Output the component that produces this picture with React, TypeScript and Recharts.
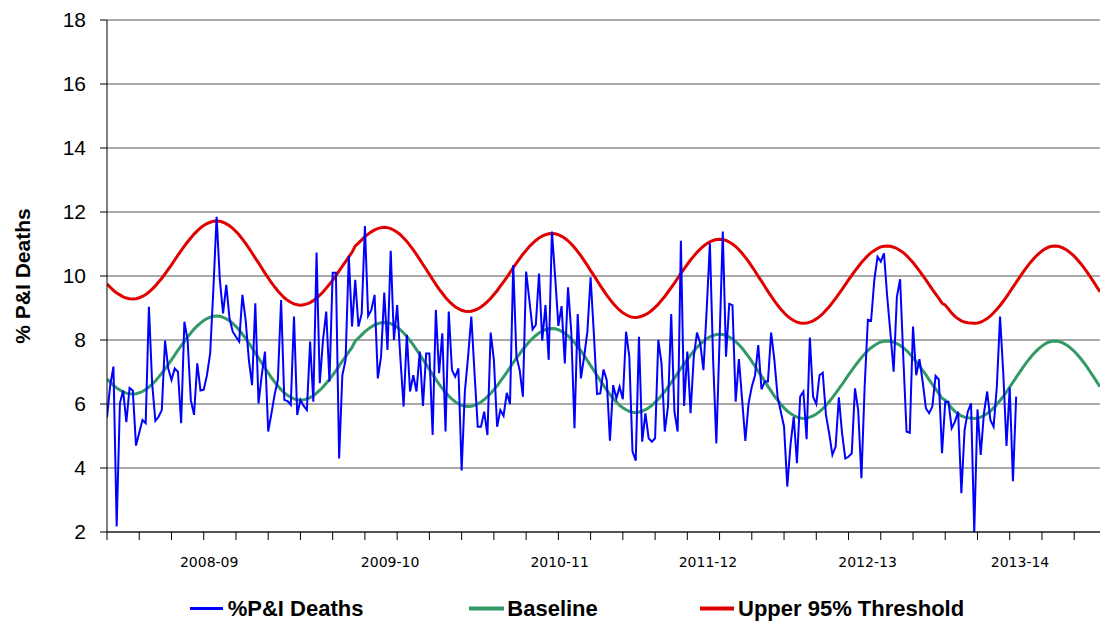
import React from 'react';
import { LineChart, Line, XAxis, YAxis, CartesianGrid } from 'recharts';

// Weekly % of deaths due to pneumonia & influenza (week index 0 = first week shown)
const PI_DEATHS: number[] = [
  5.58, 6.6, 7.17, 2.17, 6.02, 6.42, 5.43, 6.5, 6.42, 4.7,
  5.1, 5.5, 5.4, 9.04, 6.65, 5.47, 5.6, 5.81, 7.98, 7.11,
  6.75, 7.11, 7.01, 5.4, 8.57, 8.0, 6.12, 5.66, 7.27, 6.42,
  6.45, 6.9, 7.58, 9.6, 11.85, 9.88, 8.83, 9.72, 8.68, 8.26,
  8.1, 7.95, 9.41, 8.63, 7.38, 6.59, 9.15, 6.02, 6.9, 7.64,
  5.14, 5.7, 6.3, 6.75, 9.25, 6.13, 6.09, 5.97, 8.73, 5.66,
  6.13, 5.94, 5.81, 7.95, 6.07, 10.73, 6.65, 8.0, 8.89, 6.7,
  10.1, 10.1, 4.3, 6.9, 7.38, 10.63, 8.42, 9.88, 8.42, 8.83,
  11.56, 8.75, 8.94, 9.41, 6.8, 7.48, 9.48, 7.69, 10.79, 8.0,
  9.09, 7.43, 5.92, 8.16, 6.39, 6.9, 6.39, 7.64, 5.94, 7.58,
  7.58, 5.03, 8.94, 6.96, 8.21, 5.14, 8.89, 7.06, 6.85, 7.11,
  3.92, 6.39, 7.48, 8.73, 6.96, 5.29, 5.29, 5.76, 5.03, 8.23,
  7.38, 5.29, 5.81, 5.63, 6.35, 6.0, 10.34, 7.48, 7.06, 6.23,
  10.14, 9.25, 8.33, 8.47, 10.08, 7.98, 9.09, 7.38, 11.39, 9.98,
  8.44, 9.06, 7.27, 9.65, 8.26, 5.24, 8.81, 6.8, 7.48, 8.26,
  9.96, 8.21, 6.31, 6.33, 7.08, 6.75, 4.85, 6.59, 6.18, 6.54,
  6.15, 8.26, 7.48, 4.51, 4.23, 8.1, 4.82, 5.71, 4.93, 4.82,
  4.93, 8.0, 7.27, 5.14, 5.92, 8.81, 5.76, 5.14, 11.1, 5.94,
  7.64, 5.71, 7.48, 8.23, 7.9, 7.06, 8.94, 11.02, 7.38, 4.77,
  8.0, 11.39, 7.48, 9.13, 9.09, 6.07, 7.4, 6.13, 4.85, 6.02,
  6.54, 6.9, 7.84, 6.46, 6.7, 6.7, 8.23, 7.38, 6.23, 5.76,
  5.29, 3.42, 4.72, 5.6, 4.15, 6.23, 6.39, 4.9, 8.08, 6.23,
  6.0, 6.9, 6.98, 5.66, 5.08, 4.41, 4.67, 6.21, 5.08, 4.3,
  4.35, 4.46, 6.49, 5.81, 3.68, 6.54, 8.63, 8.6, 9.88, 10.6,
  10.45, 10.71, 9.35, 8.21, 7.01, 9.35, 9.9, 7.43, 5.14, 5.1,
  8.42, 6.9, 7.4, 6.7, 5.87, 5.71, 5.92, 6.88, 6.77, 4.46,
  6.07, 6.07, 5.24, 5.45, 5.76, 3.21, 5.19, 5.76, 6.02, 2.0,
  5.83, 4.41, 5.71, 6.39, 5.5, 5.29, 6.54, 8.73, 6.96, 4.69,
  6.51, 3.59, 6.23,
];

const BASELINE: number[] = [
  6.78, 6.68, 6.58, 6.5, 6.44, 6.38, 6.34, 6.32, 6.31, 6.32,
  6.35, 6.39, 6.45, 6.53, 6.62, 6.72, 6.84, 6.96, 7.1, 7.24,
  7.38, 7.53, 7.68, 7.82, 7.96, 8.1, 8.22, 8.34, 8.44, 8.53,
  8.61, 8.67, 8.71, 8.74, 8.75, 8.74, 8.71, 8.66, 8.6, 8.52,
  8.42, 8.31, 8.18, 8.05, 7.9, 7.75, 7.59, 7.44, 7.28, 7.12,
  6.97, 6.82, 6.69, 6.56, 6.45, 6.35, 6.27, 6.21, 6.16, 6.13,
  6.12, 6.13, 6.16, 6.2, 6.26, 6.34, 6.43, 6.53, 6.65, 6.77,
  6.9, 7.04, 7.19, 7.34, 7.48, 7.63, 7.77, 7.97, 8.06, 8.16,
  8.26, 8.34, 8.41, 8.47, 8.51, 8.54, 8.55, 8.54, 8.51, 8.46,
  8.4, 8.32, 8.22, 8.11, 7.98, 7.85, 7.7, 7.55, 7.39, 7.24,
  7.08, 6.92, 6.77, 6.62, 6.49, 6.36, 6.25, 6.15, 6.07, 6.01,
  5.96, 5.93, 5.92, 5.93, 5.96, 6.0, 6.06, 6.14, 6.23, 6.33,
  6.45, 6.57, 6.71, 6.85, 6.99, 7.14, 7.29, 7.43, 7.57, 7.71,
  7.83, 7.95, 8.05, 8.14, 8.22, 8.28, 8.32, 8.35, 8.36, 8.35,
  8.32, 8.27, 8.21, 8.13, 8.03, 7.92, 7.79, 7.66, 7.51, 7.36,
  7.2, 7.05, 6.89, 6.73, 6.58, 6.43, 6.3, 6.17, 6.06, 5.96,
  5.88, 5.82, 5.77, 5.74, 5.73, 5.75, 5.78, 5.82, 5.88, 5.96,
  6.05, 6.15, 6.27, 6.39, 6.53, 6.67, 6.81, 6.96, 7.11, 7.25,
  7.39, 7.53, 7.65, 7.77, 7.87, 7.96, 8.04, 8.1, 8.14, 8.17,
  8.18, 8.17, 8.14, 8.09, 8.03, 7.95, 7.85, 7.74, 7.61, 7.48,
  7.33, 7.18, 7.02, 6.87, 6.71, 6.55, 6.4, 6.25, 6.12, 5.99,
  5.88, 5.78, 5.7, 5.64, 5.59, 5.56, 5.55, 5.56, 5.59, 5.63,
  5.69, 5.76, 5.85, 5.96, 6.07, 6.2, 6.33, 6.47, 6.61, 6.76,
  6.91, 7.05, 7.19, 7.32, 7.45, 7.56, 7.67, 7.76, 7.83, 7.89,
  7.94, 7.96, 7.97, 7.96, 7.93, 7.89, 7.83, 7.76, 7.67, 7.56,
  7.45, 7.32, 7.19, 7.05, 6.91, 6.76, 6.61, 6.47, 6.33, 6.18,
  6.12, 6.0, 5.87, 5.77, 5.69, 5.63, 5.59, 5.57, 5.56, 5.55,
  5.56, 5.59, 5.64, 5.7, 5.78, 5.88, 5.99, 6.11, 6.24, 6.38,
  6.53, 6.68, 6.83, 6.98, 7.13, 7.27, 7.4, 7.52, 7.63, 7.73,
  7.81, 7.88, 7.93, 7.96, 7.97, 7.96, 7.93, 7.88, 7.82, 7.74,
  7.65, 7.54, 7.42, 7.29, 7.15, 7.0, 6.85, 6.69, 6.54,
];

const THRESHOLD: number[] = [
  9.75, 9.65, 9.55, 9.47, 9.41, 9.35, 9.31, 9.29, 9.28, 9.29,
  9.32, 9.36, 9.42, 9.5, 9.59, 9.69, 9.81, 9.93, 10.07, 10.21,
  10.35, 10.5, 10.65, 10.79, 10.93, 11.07, 11.19, 11.31, 11.41, 11.5,
  11.58, 11.64, 11.68, 11.71, 11.72, 11.71, 11.68, 11.63, 11.57, 11.49,
  11.39, 11.28, 11.15, 11.02, 10.87, 10.72, 10.56, 10.41, 10.25, 10.09,
  9.94, 9.79, 9.66, 9.53, 9.42, 9.32, 9.24, 9.18, 9.13, 9.1,
  9.09, 9.1, 9.13, 9.17, 9.23, 9.31, 9.4, 9.5, 9.62, 9.74,
  9.87, 10.01, 10.16, 10.31, 10.45, 10.6, 10.74, 10.94, 11.03, 11.13,
  11.23, 11.31, 11.38, 11.44, 11.48, 11.51, 11.52, 11.51, 11.48, 11.43,
  11.37, 11.29, 11.19, 11.08, 10.95, 10.82, 10.67, 10.52, 10.36, 10.21,
  10.05, 9.89, 9.74, 9.59, 9.46, 9.33, 9.22, 9.12, 9.04, 8.98,
  8.93, 8.9, 8.89, 8.9, 8.93, 8.97, 9.03, 9.11, 9.2, 9.3,
  9.42, 9.54, 9.68, 9.82, 9.96, 10.11, 10.26, 10.4, 10.54, 10.68,
  10.8, 10.92, 11.02, 11.11, 11.19, 11.25, 11.29, 11.32, 11.33, 11.32,
  11.29, 11.24, 11.18, 11.1, 11.0, 10.89, 10.76, 10.63, 10.48, 10.33,
  10.17, 10.02, 9.86, 9.7, 9.55, 9.4, 9.27, 9.14, 9.03, 8.93,
  8.85, 8.79, 8.74, 8.71, 8.7, 8.72, 8.75, 8.79, 8.85, 8.93,
  9.02, 9.12, 9.24, 9.36, 9.5, 9.64, 9.78, 9.93, 10.08, 10.22,
  10.36, 10.5, 10.62, 10.74, 10.84, 10.93, 11.01, 11.07, 11.11, 11.14,
  11.15, 11.14, 11.11, 11.06, 11.0, 10.92, 10.82, 10.71, 10.58, 10.45,
  10.3, 10.15, 9.99, 9.84, 9.68, 9.52, 9.37, 9.22, 9.09, 8.96,
  8.85, 8.75, 8.67, 8.61, 8.56, 8.53, 8.52, 8.53, 8.56, 8.6,
  8.66, 8.73, 8.82, 8.93, 9.04, 9.17, 9.3, 9.44, 9.58, 9.73,
  9.88, 10.02, 10.16, 10.29, 10.42, 10.53, 10.64, 10.73, 10.8, 10.86,
  10.91, 10.93, 10.94, 10.93, 10.9, 10.86, 10.8, 10.73, 10.64, 10.53,
  10.42, 10.29, 10.16, 10.02, 9.88, 9.73, 9.58, 9.44, 9.3, 9.15,
  9.09, 8.97, 8.84, 8.74, 8.66, 8.6, 8.56, 8.54, 8.53, 8.52,
  8.53, 8.56, 8.61, 8.67, 8.75, 8.85, 8.96, 9.08, 9.21, 9.35,
  9.5, 9.65, 9.8, 9.95, 10.1, 10.24, 10.37, 10.49, 10.6, 10.7,
  10.78, 10.85, 10.9, 10.93, 10.94, 10.93, 10.9, 10.85, 10.79, 10.71,
  10.62, 10.51, 10.39, 10.26, 10.12, 9.97, 9.82, 9.66, 9.51,
];

const SEASON_LABELS: string[] = ['2008-09', '2009-10', '2010-11', '2011-12', '2012-13', '2013-14'];
const SEASON_LABEL_POS: number[] = [31.7, 87.8, 140.4, 186.4, 235.9, 283.2];
const WEEK_TICKS: number[] = [0, 10, 20, 30, 40, 50, 60, 70, 80, 90, 100, 110, 120, 130, 140, 150,
  160, 170, 180, 190, 200, 210, 220, 230, 240, 250, 260, 270, 280, 290, 300];
const Y_TICKS: number[] = [2, 4, 6, 8, 10, 12, 14, 16, 18];

const data = BASELINE.map((b, i) => ({
  i,
  pi: i < PI_DEATHS.length ? PI_DEATHS[i] : null,
  base: b,
  thr: THRESHOLD[i],
}));

const XTick = (props: any) => {
  const { x, y, payload } = props;
  const li = SEASON_LABEL_POS.indexOf(payload.value);
  if (li >= 0) {
    return (
      <text x={x} y={y + 35} textAnchor="middle" fontSize={14} fontFamily="'DejaVu Sans', sans-serif" fill="#000">
        {SEASON_LABELS[li]}
      </text>
    );
  }
  return <line x1={x} y1={y} x2={x} y2={y + 8} stroke="#000" strokeWidth={1} />;
};

const YTitle = (props: any) => {
  const vb = props.viewBox || { x: 0, y: 20, width: 107, height: 512 };
  const cx = vb.x + 22;
  const cy = vb.y + vb.height / 2;
  return (
    <text
      x={cx}
      y={cy}
      transform={`rotate(-90 ${cx} ${cy})`}
      textAnchor="middle"
      dominantBaseline="central"
      fontSize={21}
      fontWeight="bold"
      fontFamily="'Liberation Sans', Arial, sans-serif"
      fill="#000"
    >
      % P&amp;I Deaths
    </text>
  );
};

const LEGEND = [
  { label: '%P&I Deaths', color: '#0000FF', x1: 190, x2: 223, tx: 227.7, w: 3 },
  { label: 'Baseline', color: '#339966', x1: 469, x2: 504, tx: 507.3, w: 4 },
  { label: 'Upper 95% Threshold', color: '#E00000', x1: 700, x2: 734, tx: 738, w: 4 },
];

export default function App() {
  return (
    <div style={{ position: 'absolute', left: 0, top: 0, width: 1100, height: 621, background: '#fff' }}>
      <LineChart width={1100} height={621} data={data} margin={{ top: 20, right: 0, bottom: 0, left: 0 }}>
        <CartesianGrid vertical={false} stroke="#555" strokeWidth={1} />
        <XAxis
          type="number"
          dataKey="i"
          domain={[0, 308]}
          ticks={[...WEEK_TICKS, ...SEASON_LABEL_POS]}
          interval={0}
          tickLine={false}
          tickSize={0}
          tickMargin={0}
          tick={XTick}
          axisLine={{ stroke: '#000', strokeWidth: 1 }}
          height={89}
          allowDataOverflow
        />
        <YAxis
          type="number"
          domain={[2, 18]}
          ticks={Y_TICKS}
          interval={0}
          width={107}
          tickSize={7}
          tickMargin={14}
          axisLine={{ stroke: '#000', strokeWidth: 1 }}
          tickLine={{ stroke: '#000', strokeWidth: 1 }}
          tick={{ fontSize: 21, fill: '#000', fontFamily: "'Liberation Sans', Arial, sans-serif" }}
          label={<YTitle />}
          allowDataOverflow
        />
        <Line type="linear" dataKey="base" stroke="#339966" strokeWidth={3} dot={false} activeDot={false} isAnimationActive={false} />
        <Line type="linear" dataKey="thr" stroke="#E00000" strokeWidth={3} dot={false} activeDot={false} isAnimationActive={false} />
        <Line type="linear" dataKey="pi" stroke="#0000FF" strokeWidth={2} dot={false} activeDot={false} connectNulls={false} isAnimationActive={false} />
      </LineChart>
      <svg width={1100} height={621} style={{ position: 'absolute', left: 0, top: 0, pointerEvents: 'none' }}>
        {LEGEND.map((l) => (
          <g key={l.label}>
            <line x1={l.x1} x2={l.x2} y1={608.5} y2={608.5} stroke={l.color} strokeWidth={l.w} />
            <text x={l.tx} y={616} fontSize={22} fontWeight="bold" fontFamily="'Liberation Sans', Arial, sans-serif" fill="#000">
              {l.label}
            </text>
          </g>
        ))}
      </svg>
    </div>
  );
}
